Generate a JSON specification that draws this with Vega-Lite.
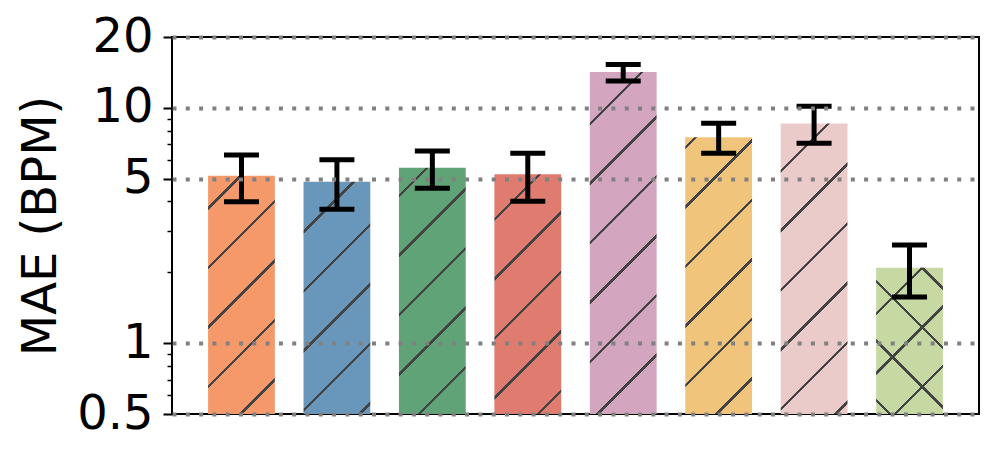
{
  "$schema": "https://vega.github.io/schema/vega-lite/v6.json",
  "width": 807,
  "height": 377,
  "autosize": {"type": "none"},
  "padding": {"left": 172, "top": 37, "right": 18, "bottom": 48},
  "background": "white",
  "config": {"view": {"stroke": "black", "strokeWidth": 2}},
  "data": {"values": [
    {"method": "M1", "mae": 5.15, "lo": 3.99, "hi": 6.30},
    {"method": "M2", "mae": 4.85, "lo": 3.71, "hi": 6.02},
    {"method": "M3", "mae": 5.57, "lo": 4.55, "hi": 6.56},
    {"method": "M4", "mae": 5.22, "lo": 4.01, "hi": 6.41},
    {"method": "M5", "mae": 14.2, "lo": 13.0, "hi": 15.3},
    {"method": "M6", "mae": 7.5, "lo": 6.41, "hi": 8.6},
    {"method": "M7", "mae": 8.57, "lo": 7.07, "hi": 10.15},
    {"method": "M8", "mae": 2.09, "lo": 1.57, "hi": 2.61}
  ]},
  "encoding": {
    "x": {"field": "method", "type": "nominal", "axis": null,
          "scale": {"paddingInner": 0.3, "paddingOuter": 0.378, "round": false}}
  },
  "resolve": {"scale": {"y": "shared"}, "axis": {"y": "independent"}},
  "layer": [
    {
      "transform": [{"filter": "datum.method === 'M1'"}],
      "mark": {"type": "bar", "fill": {"gradient": "linear", "x1": 0, "y1": 0, "x2": 0.3327, "y2": 1.1870, "stops": [
        {"offset": 0, "color": "#F5996B"},
        {"offset": 0.1015, "color": "#F5996B"}, {"offset": 0.1015, "color": "#434343"}, {"offset": 0.1133, "color": "#434343"}, {"offset": 0.1133, "color": "#F5996B"},
        {"offset": 0.2965, "color": "#F5996B"}, {"offset": 0.2965, "color": "#434343"}, {"offset": 0.3083, "color": "#434343"}, {"offset": 0.3083, "color": "#F5996B"},
        {"offset": 0.4915, "color": "#F5996B"}, {"offset": 0.4915, "color": "#434343"}, {"offset": 0.5033, "color": "#434343"}, {"offset": 0.5033, "color": "#F5996B"},
        {"offset": 0.6865, "color": "#F5996B"}, {"offset": 0.6865, "color": "#434343"}, {"offset": 0.6983, "color": "#434343"}, {"offset": 0.6983, "color": "#F5996B"},
        {"offset": 0.8815, "color": "#F5996B"}, {"offset": 0.8815, "color": "#434343"}, {"offset": 0.8933, "color": "#434343"}, {"offset": 0.8933, "color": "#F5996B"},
        {"offset": 1, "color": "#F5996B"}]}},
      "encoding": {
        "y": {"field": "mae", "type": "quantitative",
              "scale": {"type": "log", "domain": [0.5, 20], "nice": false},
              "axis": {"orient": "left", "values": [0.5, 1, 5, 10, 20], "format": "~g",
                       "labelFont": "DejaVu Sans", "labelFontSize": 48, "labelColor": "black",
                       "labelPadding": 10, "labelOverlap": false, "labelFlush": false,
                       "tickSize": 9, "tickWidth": 2, "tickColor": "black", "domain": false,
                       "grid": true, "gridColor": "#808080", "gridWidth": 4, "gridDash": [4, 9.3],
                       "title": "MAE (BPM)", "titleFont": "DejaVu Sans", "titleFontSize": 48,
                       "titleFontWeight": "normal", "titleColor": "black", "titleX": -117, "titleY": 188.5,
                       "titleAngle": -90, "titleBaseline": "alphabetic", "titleAlign": "center", "zindex": 1}},
        "y2": {"datum": 0.5}
      }
    },
    {
      "transform": [{"filter": "datum.method === 'M2'"}],
      "mark": {"type": "bar", "fill": {"gradient": "linear", "x1": 0, "y1": 0, "x2": 0.3421, "y2": 1.1893, "stops": [
        {"offset": 0, "color": "#6897BB"},
        {"offset": 0.1619, "color": "#6897BB"}, {"offset": 0.1619, "color": "#434343"}, {"offset": 0.1739, "color": "#434343"}, {"offset": 0.1739, "color": "#6897BB"},
        {"offset": 0.3609, "color": "#6897BB"}, {"offset": 0.3609, "color": "#434343"}, {"offset": 0.3729, "color": "#434343"}, {"offset": 0.3729, "color": "#6897BB"},
        {"offset": 0.5599, "color": "#6897BB"}, {"offset": 0.5599, "color": "#434343"}, {"offset": 0.5719, "color": "#434343"}, {"offset": 0.5719, "color": "#6897BB"},
        {"offset": 0.7589, "color": "#6897BB"}, {"offset": 0.7589, "color": "#434343"}, {"offset": 0.7709, "color": "#434343"}, {"offset": 0.7709, "color": "#6897BB"},
        {"offset": 0.9579, "color": "#6897BB"}, {"offset": 0.9579, "color": "#434343"}, {"offset": 0.9699, "color": "#434343"}, {"offset": 0.9699, "color": "#6897BB"},
        {"offset": 1, "color": "#6897BB"}]}},
      "encoding": {"y": {"field": "mae", "type": "quantitative", "axis": null}, "y2": {"datum": 0.5}}
    },
    {
      "transform": [{"filter": "datum.method === 'M3'"}],
      "mark": {"type": "bar", "fill": {"gradient": "linear", "x1": 0, "y1": 0, "x2": 0.3211, "y2": 1.1841, "stops": [
        {"offset": 0, "color": "#5FA377"},
        {"offset": 0.0850, "color": "#5FA377"}, {"offset": 0.0850, "color": "#434343"}, {"offset": 0.0964, "color": "#434343"}, {"offset": 0.0964, "color": "#5FA377"},
        {"offset": 0.2750, "color": "#5FA377"}, {"offset": 0.2750, "color": "#434343"}, {"offset": 0.2864, "color": "#434343"}, {"offset": 0.2864, "color": "#5FA377"},
        {"offset": 0.4650, "color": "#5FA377"}, {"offset": 0.4650, "color": "#434343"}, {"offset": 0.4764, "color": "#434343"}, {"offset": 0.4764, "color": "#5FA377"},
        {"offset": 0.6550, "color": "#5FA377"}, {"offset": 0.6550, "color": "#434343"}, {"offset": 0.6664, "color": "#434343"}, {"offset": 0.6664, "color": "#5FA377"},
        {"offset": 0.8450, "color": "#5FA377"}, {"offset": 0.8450, "color": "#434343"}, {"offset": 0.8564, "color": "#434343"}, {"offset": 0.8564, "color": "#5FA377"},
        {"offset": 1, "color": "#5FA377"}]}},
      "encoding": {"y": {"field": "mae", "type": "quantitative", "axis": null}, "y2": {"datum": 0.5}}
    },
    {
      "transform": [{"filter": "datum.method === 'M4'"}],
      "mark": {"type": "bar", "fill": {"gradient": "linear", "x1": 0, "y1": 0, "x2": 0.3306, "y2": 1.1865, "stops": [
        {"offset": 0, "color": "#E07B6F"},
        {"offset": 0.1421, "color": "#E07B6F"}, {"offset": 0.1421, "color": "#434343"}, {"offset": 0.1539, "color": "#434343"}, {"offset": 0.1539, "color": "#E07B6F"},
        {"offset": 0.3362, "color": "#E07B6F"}, {"offset": 0.3362, "color": "#434343"}, {"offset": 0.3480, "color": "#434343"}, {"offset": 0.3480, "color": "#E07B6F"},
        {"offset": 0.5303, "color": "#E07B6F"}, {"offset": 0.5303, "color": "#434343"}, {"offset": 0.5421, "color": "#434343"}, {"offset": 0.5421, "color": "#E07B6F"},
        {"offset": 0.7244, "color": "#E07B6F"}, {"offset": 0.7244, "color": "#434343"}, {"offset": 0.7362, "color": "#434343"}, {"offset": 0.7362, "color": "#E07B6F"},
        {"offset": 0.9185, "color": "#E07B6F"}, {"offset": 0.9185, "color": "#434343"}, {"offset": 0.9303, "color": "#434343"}, {"offset": 0.9303, "color": "#E07B6F"},
        {"offset": 1, "color": "#E07B6F"}]}},
      "encoding": {"y": {"field": "mae", "type": "quantitative", "axis": null}, "y2": {"datum": 0.5}}
    },
    {
      "transform": [{"filter": "datum.method === 'M5'"}],
      "mark": {"type": "bar", "fill": {"gradient": "linear", "x1": 0, "y1": 0, "x2": 0.2249, "y2": 1.1514, "stops": [
        {"offset": 0, "color": "#D3A5BE"},
        {"offset": 0.1233, "color": "#D3A5BE"}, {"offset": 0.1233, "color": "#434343"}, {"offset": 0.1321, "color": "#434343"}, {"offset": 0.1321, "color": "#D3A5BE"},
        {"offset": 0.2688, "color": "#D3A5BE"}, {"offset": 0.2688, "color": "#434343"}, {"offset": 0.2776, "color": "#434343"}, {"offset": 0.2776, "color": "#D3A5BE"},
        {"offset": 0.4144, "color": "#D3A5BE"}, {"offset": 0.4144, "color": "#434343"}, {"offset": 0.4232, "color": "#434343"}, {"offset": 0.4232, "color": "#D3A5BE"},
        {"offset": 0.5599, "color": "#D3A5BE"}, {"offset": 0.5599, "color": "#434343"}, {"offset": 0.5687, "color": "#434343"}, {"offset": 0.5687, "color": "#D3A5BE"},
        {"offset": 0.7055, "color": "#D3A5BE"}, {"offset": 0.7055, "color": "#434343"}, {"offset": 0.7143, "color": "#434343"}, {"offset": 0.7143, "color": "#D3A5BE"},
        {"offset": 0.8510, "color": "#D3A5BE"}, {"offset": 0.8510, "color": "#434343"}, {"offset": 0.8598, "color": "#434343"}, {"offset": 0.8598, "color": "#D3A5BE"},
        {"offset": 1, "color": "#D3A5BE"}]}},
      "encoding": {"y": {"field": "mae", "type": "quantitative", "axis": null}, "y2": {"datum": 0.5}}
    },
    {
      "transform": [{"filter": "datum.method === 'M6'"}],
      "mark": {"type": "bar", "fill": {"gradient": "linear", "x1": 0, "y1": 0, "x2": 0.2831, "y2": 1.1730, "stops": [
        {"offset": 0, "color": "#F1C47B"},
        {"offset": 0.0254, "color": "#F1C47B"}, {"offset": 0.0254, "color": "#434343"}, {"offset": 0.0358, "color": "#434343"}, {"offset": 0.0358, "color": "#F1C47B"},
        {"offset": 0.1986, "color": "#F1C47B"}, {"offset": 0.1986, "color": "#434343"}, {"offset": 0.2090, "color": "#434343"}, {"offset": 0.2090, "color": "#F1C47B"},
        {"offset": 0.3718, "color": "#F1C47B"}, {"offset": 0.3718, "color": "#434343"}, {"offset": 0.3822, "color": "#434343"}, {"offset": 0.3822, "color": "#F1C47B"},
        {"offset": 0.5450, "color": "#F1C47B"}, {"offset": 0.5450, "color": "#434343"}, {"offset": 0.5554, "color": "#434343"}, {"offset": 0.5554, "color": "#F1C47B"},
        {"offset": 0.7182, "color": "#F1C47B"}, {"offset": 0.7182, "color": "#434343"}, {"offset": 0.7286, "color": "#434343"}, {"offset": 0.7286, "color": "#F1C47B"},
        {"offset": 0.8914, "color": "#F1C47B"}, {"offset": 0.8914, "color": "#434343"}, {"offset": 0.9018, "color": "#434343"}, {"offset": 0.9018, "color": "#F1C47B"},
        {"offset": 1, "color": "#F1C47B"}]}},
      "encoding": {"y": {"field": "mae", "type": "quantitative", "axis": null}, "y2": {"datum": 0.5}}
    },
    {
      "transform": [{"filter": "datum.method === 'M7'"}],
      "mark": {"type": "bar", "fill": {"gradient": "linear", "x1": 0, "y1": 0, "x2": 0.2687, "y2": 1.1682, "stops": [
        {"offset": 0, "color": "#EBCBCA"},
        {"offset": 0.1286, "color": "#EBCBCA"}, {"offset": 0.1286, "color": "#434343"}, {"offset": 0.1386, "color": "#434343"}, {"offset": 0.1386, "color": "#EBCBCA"},
        {"offset": 0.2951, "color": "#EBCBCA"}, {"offset": 0.2951, "color": "#434343"}, {"offset": 0.3051, "color": "#434343"}, {"offset": 0.3051, "color": "#EBCBCA"},
        {"offset": 0.4617, "color": "#EBCBCA"}, {"offset": 0.4617, "color": "#434343"}, {"offset": 0.4717, "color": "#434343"}, {"offset": 0.4717, "color": "#EBCBCA"},
        {"offset": 0.6283, "color": "#EBCBCA"}, {"offset": 0.6283, "color": "#434343"}, {"offset": 0.6383, "color": "#434343"}, {"offset": 0.6383, "color": "#EBCBCA"},
        {"offset": 0.7949, "color": "#EBCBCA"}, {"offset": 0.7949, "color": "#434343"}, {"offset": 0.8049, "color": "#434343"}, {"offset": 0.8049, "color": "#EBCBCA"},
        {"offset": 0.9615, "color": "#EBCBCA"}, {"offset": 0.9615, "color": "#434343"}, {"offset": 0.9715, "color": "#434343"}, {"offset": 0.9715, "color": "#EBCBCA"},
        {"offset": 1, "color": "#EBCBCA"}]}},
      "encoding": {"y": {"field": "mae", "type": "quantitative", "axis": null}, "y2": {"datum": 0.5}}
    },
    {
      "transform": [{"filter": "datum.method === 'M8'"}],
      "mark": {"type": "bar", "fill": {"gradient": "linear", "x1": 0, "y1": 0, "x2": 0.5508, "y2": 1.2053, "stops": [
        {"offset": 0, "color": "#C6D9A3"},
        {"offset": 0.2078, "color": "#C6D9A3"}, {"offset": 0.2078, "color": "#434343"}, {"offset": 0.2248, "color": "#434343"}, {"offset": 0.2248, "color": "#C6D9A3"},
        {"offset": 0.4872, "color": "#C6D9A3"}, {"offset": 0.4872, "color": "#434343"}, {"offset": 0.5042, "color": "#434343"}, {"offset": 0.5042, "color": "#C6D9A3"},
        {"offset": 0.7666, "color": "#C6D9A3"}, {"offset": 0.7666, "color": "#434343"}, {"offset": 0.7836, "color": "#434343"}, {"offset": 0.7836, "color": "#C6D9A3"},
        {"offset": 1, "color": "#C6D9A3"}]}},
      "encoding": {"y": {"field": "mae", "type": "quantitative", "axis": null}, "y2": {"datum": 0.5}}
    },
    {
      "transform": [{"filter": "datum.method === 'M8'"}],
      "mark": {"type": "bar", "fill": {"gradient": "linear", "x1": 0, "y1": 1, "x2": 0.5508, "y2": -0.2053, "stops": [
        {"offset": 0, "color": "rgba(0,0,0,0)"},
        {"offset": 0.0567, "color": "rgba(0,0,0,0)"}, {"offset": 0.0567, "color": "#434343"}, {"offset": 0.0737, "color": "#434343"}, {"offset": 0.0737, "color": "rgba(0,0,0,0)"},
        {"offset": 0.3361, "color": "rgba(0,0,0,0)"}, {"offset": 0.3361, "color": "#434343"}, {"offset": 0.3531, "color": "#434343"}, {"offset": 0.3531, "color": "rgba(0,0,0,0)"},
        {"offset": 0.6155, "color": "rgba(0,0,0,0)"}, {"offset": 0.6155, "color": "#434343"}, {"offset": 0.6325, "color": "#434343"}, {"offset": 0.6325, "color": "rgba(0,0,0,0)"},
        {"offset": 0.8948, "color": "rgba(0,0,0,0)"}, {"offset": 0.8948, "color": "#434343"}, {"offset": 0.9118, "color": "#434343"}, {"offset": 0.9118, "color": "rgba(0,0,0,0)"},
        {"offset": 1, "color": "rgba(0,0,0,0)"}]}},
      "encoding": {"y": {"field": "mae", "type": "quantitative", "axis": null}, "y2": {"datum": 0.5}}
    },
    {
      "mark": {"type": "rule", "color": "black", "strokeWidth": 5},
      "encoding": {
        "y": {"field": "lo", "type": "quantitative",
              "axis": {"orient": "left", "values": [0.6, 0.7, 0.8, 0.9, 2, 3, 4, 6, 7, 8, 9],
                       "labels": false, "grid": false, "domain": false, "tickSize": 5,
                       "tickWidth": 1.5, "tickColor": "black", "title": null}},
        "y2": {"field": "hi"}
      }
    },
    {
      "mark": {"type": "tick", "color": "black", "size": 35, "thickness": 5, "opacity": 1},
      "encoding": {"y": {"field": "lo", "type": "quantitative", "axis": null}}
    },
    {
      "mark": {"type": "tick", "color": "black", "size": 35, "thickness": 5, "opacity": 1},
      "encoding": {"y": {"field": "hi", "type": "quantitative", "axis": null}}
    }
  ]
}
